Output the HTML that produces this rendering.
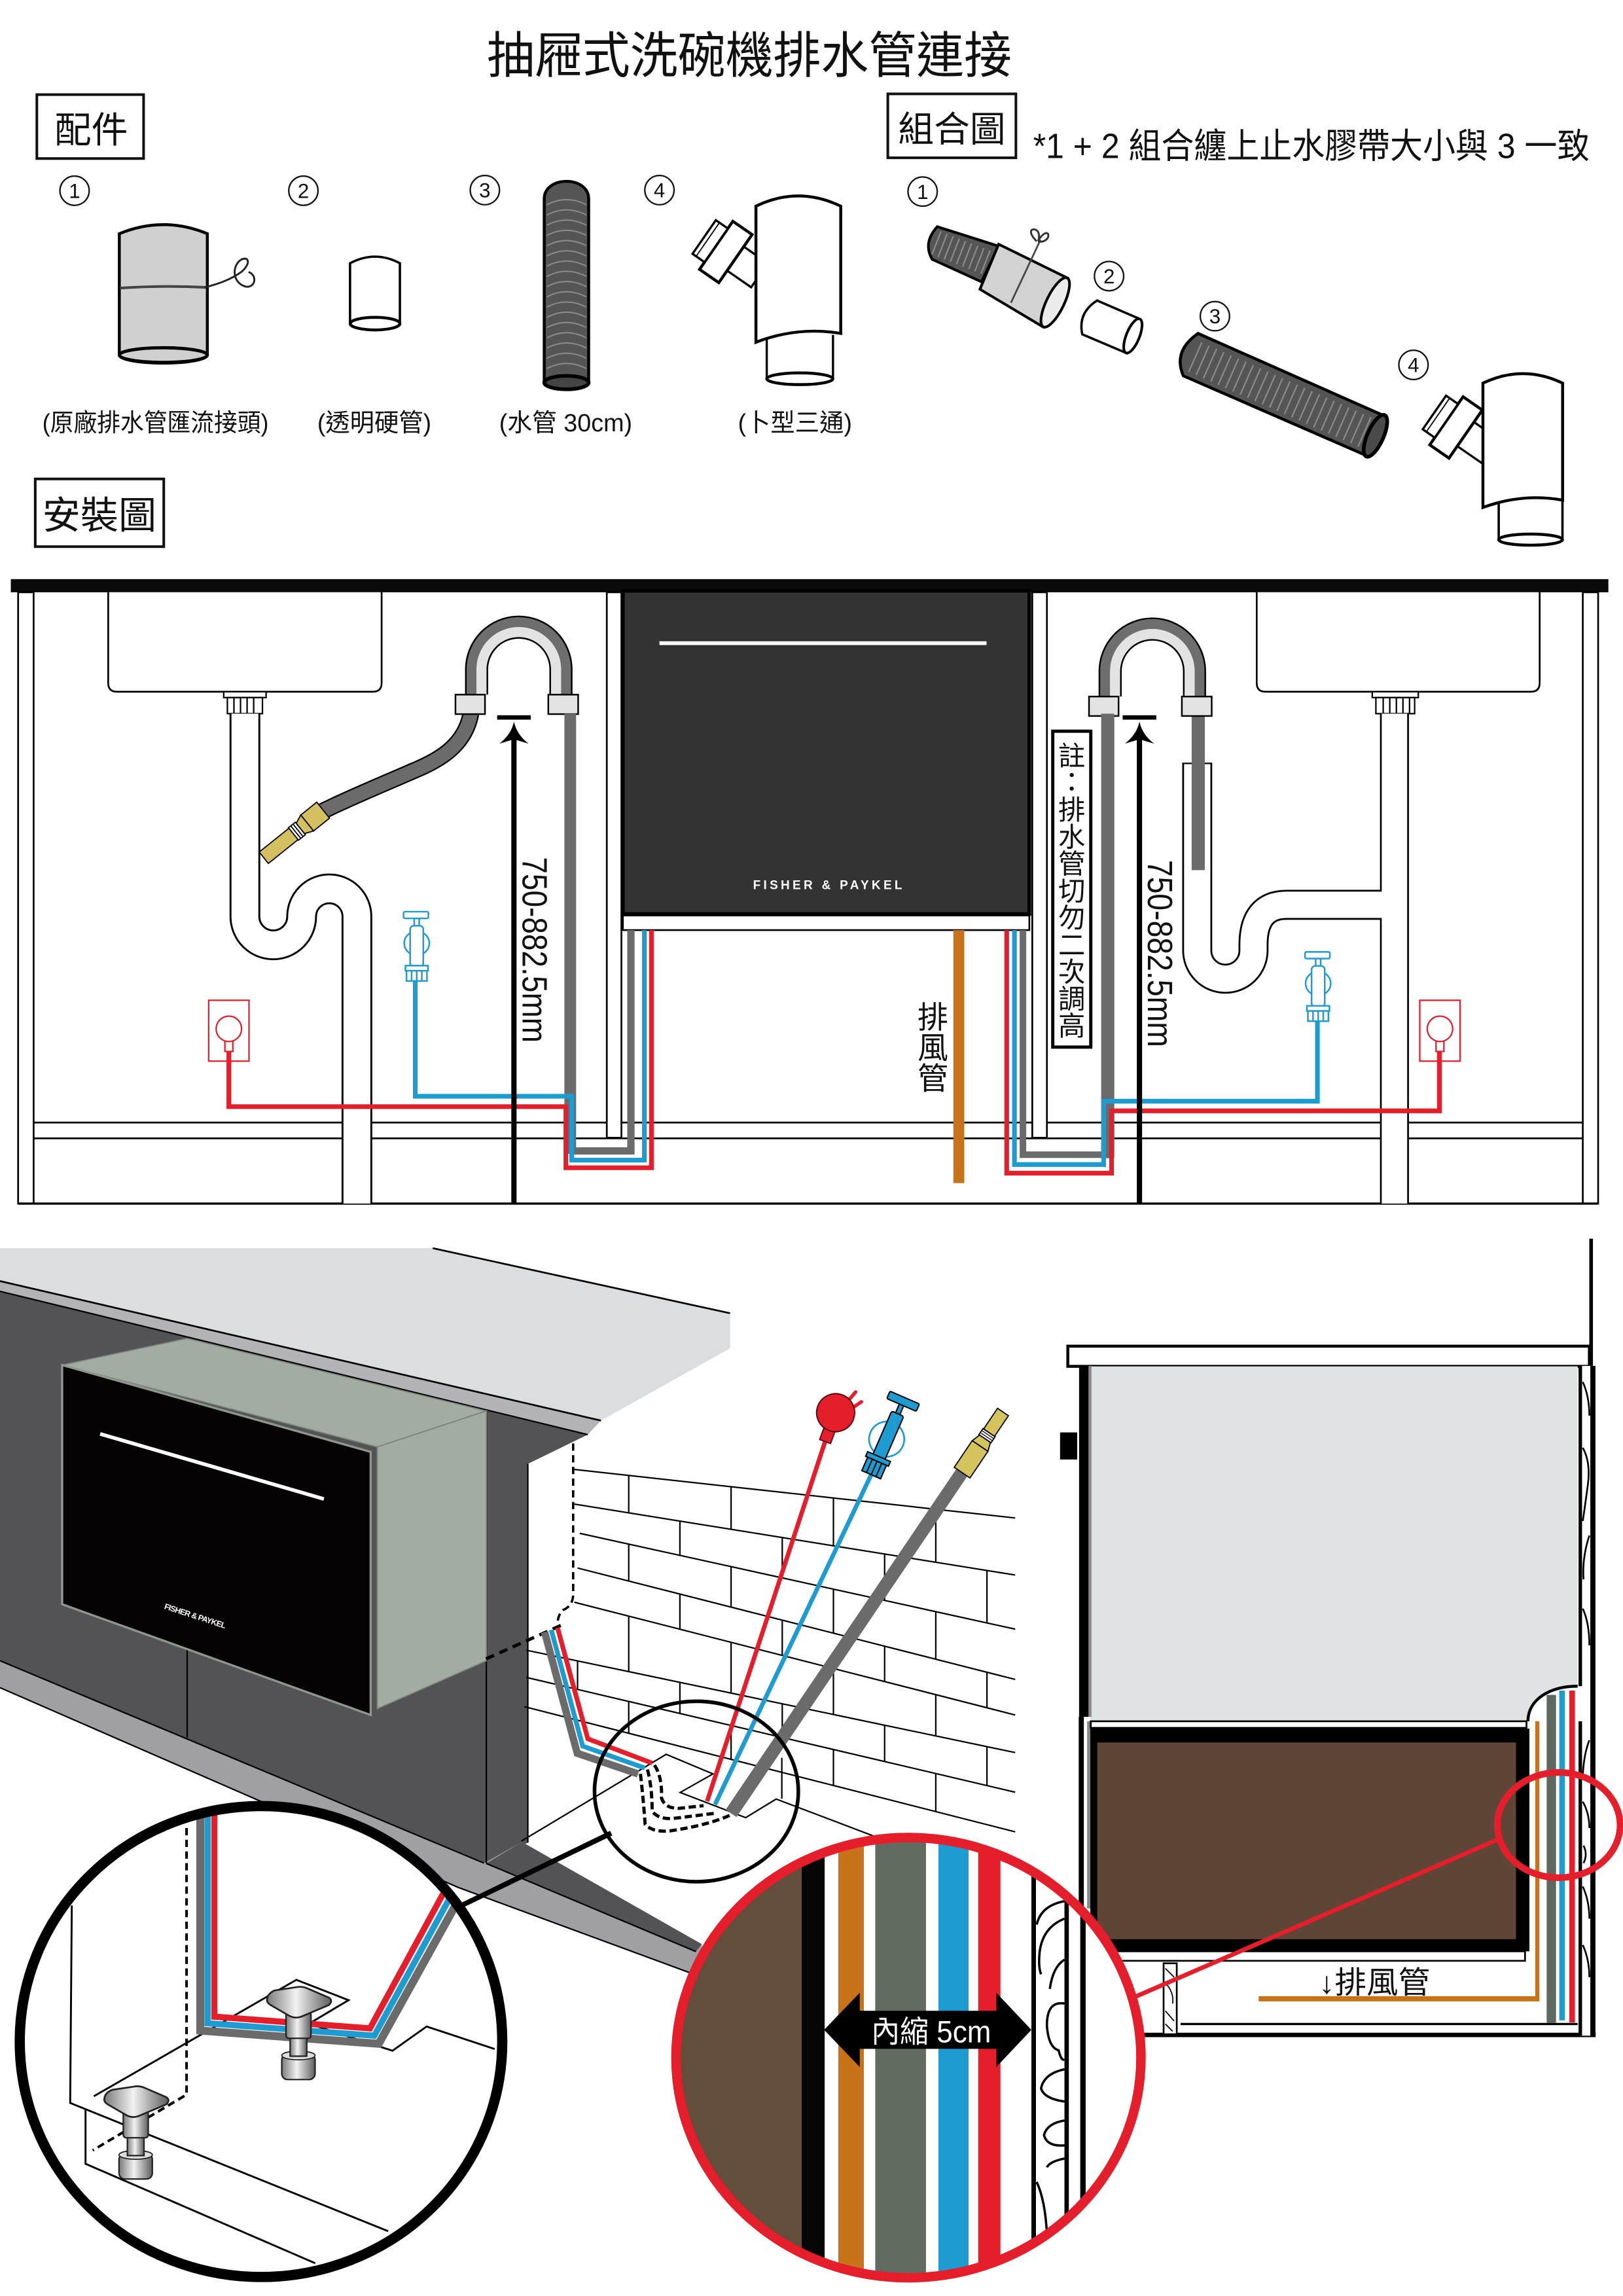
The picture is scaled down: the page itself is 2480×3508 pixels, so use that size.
<!DOCTYPE html>
<html lang="zh-Hant"><head><meta charset="utf-8"><title>抽屜式洗碗機排水管連接</title>
<style>
html,body{margin:0;padding:0;background:#fff;width:2480px;height:3508px;overflow:hidden}
svg{display:block}
text{font-family:"Liberation Sans","Noto Sans CJK TC",sans-serif;fill:#111}
</style></head><body>
<svg xmlns="http://www.w3.org/2000/svg" width="2480" height="3508" viewBox="0 0 1110 1570" preserveAspectRatio="none">
<defs>
 <linearGradient id="metal" x1="0" x2="1" y1="0" y2="0">
  <stop offset="0" stop-color="#7a7a7a"/><stop offset="0.45" stop-color="#f2f2f2"/><stop offset="1" stop-color="#5c5c5c"/>
 </linearGradient>
 <clipPath id="bigc"><ellipse cx="621.3" cy="1407" rx="159" ry="150.5"/></clipPath>
 <clipPath id="blkc"><ellipse cx="178.5" cy="1396" rx="162" ry="158"/></clipPath>
 <g id="faucet" fill="#fff" stroke="#1e9bd0" stroke-width="1.1">
  <rect x="276" y="623.4" width="17" height="4.6" rx="1"/>
  <rect x="283.3" y="628" width="3.4" height="5.5"/>
  <ellipse cx="285" cy="645" rx="8.6" ry="8.2"/>
  <rect x="280.5" y="633" width="9" height="28" rx="2.5"/>
  <rect x="277.3" y="660.3" width="15.4" height="3.5"/>
  <rect x="278" y="663.8" width="14" height="7"/>
  <path d="M281.5,663.8V670.8M285,663.8V670.8M288.5,663.8V670.8" fill="none"/>
 </g>
 <g id="outlet" fill="none" stroke="#e41e2b" stroke-width="1">
  <rect x="142.7" y="684" width="27.6" height="41.6"/>
  <circle cx="156.5" cy="703.5" r="8.7"/>
  <path d="M153.8,711.5 V719 H159.2 V711.5"/>
 </g>
 <g id="uhook">
  <path d="M-32.6,17.3 V0 A32.6,32.6 0 0 1 32.6,0 V17.3" fill="none" stroke="#6e6e6e" stroke-width="7.4"/>
  <path d="M-25.2,17.3 V0 A25.2,25.2 0 0 1 25.2,0 V17.3" fill="none" stroke="#e3e3e3" stroke-width="7.4"/>
  <path d="M-36.2,17.3 V0 A36.2,36.2 0 0 1 36.2,0 V17.3" fill="none" stroke="#000" stroke-width="1.1"/>
  <path d="M-21.5,17.3 V0 A21.5,21.5 0 0 1 21.5,0 V17.3" fill="none" stroke="#000" stroke-width="1.1"/>
  <rect x="-43.3" y="17.3" width="20.2" height="13.3" fill="#e3e3e3" stroke="#000" stroke-width="1.1"/>
  <rect x="20.2" y="17.3" width="20.4" height="13.3" fill="#e3e3e3" stroke="#000" stroke-width="1.1"/>
 </g>
 <g id="arrow">
  <rect x="-11.5" y="-4.4" width="23" height="3" fill="#000"/>
  <path d="M0,0 Q-2,9 -10,15 L0,12 L10,15 Q2,9 0,0Z" fill="#000"/>
  <rect x="-1.8" y="10" width="3.6" height="320" fill="#000"/>
 </g>
 <g id="branch">
  <rect x="6" y="-10" width="22" height="20" fill="#fff" stroke="#000" stroke-width="1.5"/>
  <rect x="-8" y="-20" width="16" height="40" fill="#fff" stroke="#000" stroke-width="2"/>
  <rect x="-18" y="-14" width="10" height="28" fill="#fff" stroke="#000" stroke-width="1.5"/>
  <line x1="-15" y1="-14" x2="-15" y2="14" stroke="#000" stroke-width="0.8"/>
 </g>
 <g id="foot">
  <rect x="192.7" y="1404.6" width="22.8" height="17.4" rx="4" fill="url(#metal)" stroke="#222" stroke-width="1"/>
  <ellipse cx="204.1" cy="1405.5" rx="11.4" ry="3" fill="#ddd" stroke="#222" stroke-width="0.8"/>
  <rect x="198.4" y="1393" width="11.4" height="13" fill="url(#metal)" stroke="#222" stroke-width="1"/>
  <rect x="195.6" y="1375.8" width="17.1" height="18" rx="2" fill="url(#metal)" stroke="#222" stroke-width="1"/>
  <path d="M182.7,1367 Q183,1363 188,1361 L203,1358.8 Q207,1358 211,1360 L225,1366 Q228,1368 225,1371 L206,1379 Q202,1380.5 198,1378.5 L185,1371 Q182,1369 182.7,1367Z" fill="url(#metal)" stroke="#222" stroke-width="1.2"/>
 </g>
</defs>
<rect width="1110" height="1570" fill="#fff"/>

<!-- ===== TITLE & HEADINGS ===== -->
<text x="512.5" y="50" font-size="34" text-anchor="middle" textLength="359" lengthAdjust="spacingAndGlyphs">抽屜式洗碗機排水管連接</text>
<rect x="25.2" y="64.7" width="73" height="43.7" fill="none" stroke="#111" stroke-width="1.8"/>
<text x="62.5" y="97.5" font-size="25" text-anchor="middle">配件</text>
<rect x="607.2" y="64.2" width="87.6" height="43.7" fill="none" stroke="#111" stroke-width="1.8"/>
<text x="651" y="97" font-size="24.5" text-anchor="middle">組合圖</text>
<text x="706.6" y="108" font-size="24" textLength="380.7" lengthAdjust="spacingAndGlyphs">*1 + 2 組合纏上止水膠帶大小與 3 一致</text>
<rect x="24.1" y="327.5" width="87.9" height="46.3" fill="none" stroke="#111" stroke-width="1.8"/>
<text x="68" y="361.5" font-size="26" text-anchor="middle">安裝圖</text>

<!-- circled numbers -->
<g fill="none" stroke="#111" stroke-width="1">
 <circle cx="51" cy="130.4" r="10"/><circle cx="207.5" cy="130.4" r="10"/><circle cx="331.6" cy="130" r="10"/><circle cx="451" cy="130" r="10"/>
 <circle cx="631" cy="131" r="10"/><circle cx="758.5" cy="188.8" r="10"/><circle cx="830.9" cy="216.2" r="10"/><circle cx="966.7" cy="249.5" r="10"/>
</g>
<g font-size="14" text-anchor="middle">
 <text x="51" y="135.4">1</text><text x="207.5" y="135.4">2</text><text x="331.6" y="135">3</text><text x="451" y="135">4</text>
 <text x="631" y="136">1</text><text x="758.5" y="193.8">2</text><text x="830.9" y="221.2">3</text><text x="966.7" y="254.5">4</text>
</g>

<!-- part labels -->
<text x="29" y="295" font-size="17" textLength="154.7" lengthAdjust="spacingAndGlyphs">(原廠排水管匯流接頭)</text>
<text x="217" y="295" font-size="17" textLength="78" lengthAdjust="spacingAndGlyphs">(透明硬管)</text>
<text x="341.4" y="295" font-size="17" textLength="91" lengthAdjust="spacingAndGlyphs">(水管 30cm)</text>
<text x="504.7" y="295" font-size="17" textLength="78" lengthAdjust="spacingAndGlyphs">(卜型三通)</text>

<!-- Part 1 -->
<path d="M81.6,159.8 Q111.7,147.4 141.8,159.8 L141.8,242.8 A30.1,5.5 0 0 1 81.6,242.8 Z" fill="#d0d0d0" stroke="#000" stroke-width="2"/>
<ellipse cx="111.7" cy="242.8" rx="30.1" ry="5" fill="none" stroke="#000" stroke-width="2.2"/>
<path d="M82,197 Q111,195 141,196.5" fill="none" stroke="#444" stroke-width="1.8"/>
<path d="M140,196.5 C150,194 158,191 165,186 C172,180 170,175 165,177.5 C159,181 158,193 168,196 C175,197 176,188 170,186" fill="none" stroke="#222" stroke-width="1.3"/>
<!-- Part 2 -->
<path d="M239.4,180 Q256.5,171 273.5,180 L273.5,221.3 A17,4.3 0 0 1 239.4,221.3 Z" fill="#fff" stroke="#000" stroke-width="1.6"/>
<ellipse cx="256.5" cy="221.3" rx="17" ry="4.3" fill="none" stroke="#000" stroke-width="2"/>
<!-- Part 3 -->
<path d="M372.2,136 C372.2,120 402.6,120 402.6,136 L402.6,261.6 A15.2,4.6 0 0 1 372.2,261.6 Z" fill="#555" stroke="#000" stroke-width="2"/>
<path d="M374,140 Q387.4,133 401,140 M374,147 Q387.4,140 401,147 M374,154 Q387.4,147 401,154 M374,161 Q387.4,154 401,161 M374,168 Q387.4,161 401,168 M374,175 Q387.4,168 401,175 M374,182 Q387.4,175 401,182 M374,189 Q387.4,182 401,189 M374,196 Q387.4,189 401,196 M374,203 Q387.4,196 401,203 M374,210 Q387.4,203 401,210 M374,217 Q387.4,210 401,217 M374,224 Q387.4,217 401,224 M374,231 Q387.4,224 401,231 M374,238 Q387.4,231 401,238 M374,245 Q387.4,238 401,245 M374,252 Q387.4,245 401,252" fill="none" stroke="#8a8a8a" stroke-width="0.9"/>
<ellipse cx="387.4" cy="261.6" rx="15.2" ry="4.6" fill="#444" stroke="#000" stroke-width="2.5"/>
<!-- Part 4 -->
<use href="#branch" transform="translate(496.4,172.3) rotate(34.7)"/>
<path d="M524.4,231 L524.4,259 A22.6,4 0 0 0 569.7,259 L569.7,229" fill="#fff" stroke="#000" stroke-width="1.5"/>
<ellipse cx="547" cy="259" rx="22.6" ry="4" fill="#fff" stroke="#000" stroke-width="2"/>
<path d="M517,141 Q546,127 575,141 L575,228 Q546,223 517,234 Z" fill="#fff" stroke="#000" stroke-width="2"/>

<!-- Assembly (right) -->
<path d="M641,155 L683,168.3 L671.2,192.7 L637.5,177.3 Q631,166 641,155 Z" fill="#555" stroke="#000" stroke-width="1.8"/>
<line x1="640" y1="166" x2="676" y2="180" stroke="#8a8a8a" stroke-width="17" stroke-dasharray="1 3.5"/>
<polygon points="683,167 730.1,190.1 713.3,223.5 670.2,197.8" fill="#d2d2d2" stroke="#000" stroke-width="1.8"/>
<ellipse cx="721.7" cy="206.8" rx="6" ry="18.6" transform="rotate(26 721.7 206.8)" fill="#ececec" stroke="#000" stroke-width="1.8"/>
<path d="M711.6,164 L691.4,207" stroke="#444" stroke-width="1.2"/>
<path d="M709,165 C704,160 704,156 708,157 C711,158 711,162 710,165 C713,159 717,158 717,161 C717,164 713,166 710,165" fill="none" stroke="#333" stroke-width="1.3"/>
<path d="M750.3,205.5 L779,217.9 L770.6,241.5 L740.2,228.6 Q737,214 750.3,205.5Z" fill="#fff" stroke="#000" stroke-width="1.6"/>
<ellipse cx="774.8" cy="229.7" rx="4.5" ry="12.5" transform="rotate(22 774.8 229.7)" fill="#fff" stroke="#000" stroke-width="1.8"/>
<path d="M819.4,228 L945.7,283.9 L935.6,312 L809.3,257 Q802,240 819.4,228Z" fill="#555" stroke="#000" stroke-width="2"/>
<line x1="817" y1="244" x2="937" y2="297" stroke="#8a8a8a" stroke-width="22" stroke-dasharray="1 4.5"/>
<ellipse cx="940.7" cy="298" rx="5.5" ry="15.5" transform="rotate(24 940.7 298)" fill="#4a4a4a" stroke="#000" stroke-width="2.5"/>
<use href="#branch" transform="translate(995.8,292.3) rotate(34.7)"/>
<path d="M1025,343 V369 A21.8,3.8 0 0 0 1068.6,369 V341" fill="#fff" stroke="#000" stroke-width="1.6"/>
<ellipse cx="1046.8" cy="369" rx="21.8" ry="3.8" fill="#fff" stroke="#000" stroke-width="2"/>
<path d="M1014.2,262 Q1041.5,249 1068.7,262 L1068.7,342 Q1041.5,337 1014.2,347 Z" fill="#fff" stroke="#000" stroke-width="2"/>

<!-- ===== INSTALL DIAGRAM ===== -->
<rect x="7.4" y="396" width="1092.6" height="9" fill="#0a0a0a"/>
<rect x="12.4" y="405" width="10.6" height="418" fill="#fff" stroke="#000" stroke-width="1.2"/>
<rect x="1082.5" y="405" width="10.5" height="418" fill="#fff" stroke="#000" stroke-width="1.2"/>
<g stroke="#000" stroke-width="1.2">
 <line x1="23" y1="767.6" x2="1082.5" y2="767.6"/>
 <line x1="23" y1="778.4" x2="1082.5" y2="778.4"/>
 <line x1="12.4" y1="823" x2="1093" y2="823" stroke-width="1.5"/>
</g>
<rect x="415" y="405" width="10" height="373" fill="#fff" stroke="#000" stroke-width="1.2"/>
<rect x="706" y="405" width="10" height="373" fill="#fff" stroke="#000" stroke-width="1.2"/>
<!-- sinks -->
<path d="M74,405 V467 Q74,473 80,473 H255 Q261,473 261,467 V405" fill="#fff" stroke="#000" stroke-width="1.2"/>
<path d="M859.5,405 V467 Q859.5,473 865.5,473 H1047 Q1053,473 1053,467 V405" fill="#fff" stroke="#000" stroke-width="1.2"/>
<g fill="#fff" stroke="#000" stroke-width="1">
 <rect x="153" y="473" width="29" height="4"/><rect x="155.5" y="477" width="24" height="11"/>
 <path d="M160,477V488M164.5,477V488M169,477V488M173.5,477V488" fill="none"/>
 <rect x="938.5" y="473" width="31.5" height="4"/><rect x="941" y="477" width="26.5" height="11"/>
 <path d="M946,477V488M950.5,477V488M955,477V488M959.5,477V488M964,477V488" fill="none"/>
</g>
<!-- left trap -->
<path d="M167.5,488 V626.7 A19.4,19.4 0 0 0 206.3,626.7 A18.9,18.9 0 0 1 244.1,626.7 V823" fill="none" stroke="#000" stroke-width="21"/>
<path d="M167.5,488 V626.7 A19.4,19.4 0 0 0 206.3,626.7 A18.9,18.9 0 0 1 244.1,626.7 V823" fill="none" stroke="#fff" stroke-width="18.4"/>
<!-- left gray hose -->
<path d="M322,488 C318,510 300,520 283,527 C265,535 240,545 218,556" fill="none" stroke="#000" stroke-width="11.5"/>
<path d="M322,488 C318,510 300,520 283,527 C265,535 240,545 218,556" fill="none" stroke="#6b6b6b" stroke-width="9.5"/>
<g transform="translate(221,554) rotate(141.3)" stroke="#000" stroke-width="0.8">
 <rect x="0" y="-7" width="14" height="14" fill="#d4c060"/>
 <polygon points="14,-7 20,-4.5 20,4.5 14,7" fill="#d4c060"/>
 <rect x="20" y="-5.5" width="6" height="11" fill="#fff"/>
 <path d="M22,-5.5V5.5M24,-5.5V5.5" fill="none"/>
 <rect x="26" y="-5" width="26" height="10" fill="#d4c060"/>
</g>
<!-- right trap -->
<path d="M818.8,522 V650 A19.25,19.25 0 0 0 857.3,650 V646 Q857.3,618.7 880,618.7 H954" fill="none" stroke="#000" stroke-width="20.5"/>
<path d="M818.8,522 V650 A19.25,19.25 0 0 0 857.3,650 V646 Q857.3,618.7 880,618.7 H954" fill="none" stroke="#fff" stroke-width="18"/>
<line x1="808.5" y1="522" x2="829" y2="522" stroke="#000" stroke-width="1"/>
<rect x="944.4" y="488" width="18.6" height="335" fill="#fff"/>
<g stroke="#000" stroke-width="1.2">
 <line x1="944.4" y1="488" x2="944.4" y2="609.7"/><line x1="944.4" y1="627.7" x2="944.4" y2="823"/>
 <line x1="963" y1="488" x2="963" y2="823"/>
</g>
<rect x="815" y="488" width="9" height="107" fill="#6b6b6b"/>
<!-- U hooks -->
<use href="#uhook" transform="translate(354.8,457.7)"/>
<use href="#uhook" transform="translate(788.1,459)"/>
<!-- dishwasher -->
<rect x="426" y="404" width="278" height="221" fill="#333" stroke="#000" stroke-width="2.5"/>
<rect x="451" y="438.5" width="223.7" height="2.6" fill="#fff"/>
<text x="566" y="608" font-size="8.5" font-weight="bold" text-anchor="middle" textLength="102" lengthAdjust="spacing" style="fill:#fff">FISHER &amp; PAYKEL</text>
<rect x="426" y="626" width="278" height="10" fill="#fff" stroke="#000" stroke-width="1.2"/>
<rect x="652" y="636" width="7.5" height="173" fill="#c8731a"/>
<!-- colored lines -->
<g fill="none" stroke-linejoin="miter">
 <line x1="390" y1="488" x2="390" y2="789" stroke="#6b6b6b" stroke-width="8"/>
 <polyline points="390,787 431.5,787 431.5,636" stroke="#6b6b6b" stroke-width="5"/>
 <polyline points="284,670 284,749.6 391,749.6 391,793.3 440.7,793.3 440.7,636" stroke="#1e9bd0" stroke-width="3.2"/>
 <polyline points="156.5,719 156.5,756.7 387,756.7 387,798.5 445.5,798.5 445.5,636" stroke="#e41e2b" stroke-width="3.2"/>
 <line x1="757.6" y1="488" x2="757.6" y2="792" stroke="#6b6b6b" stroke-width="9"/>
 <polyline points="757,789.6 699.6,789.6 699.6,636" stroke="#6b6b6b" stroke-width="4.5"/>
 <polyline points="901,697.6 901,753 754.8,753 754.8,796.3 693.8,796.3 693.8,636" stroke="#1e9bd0" stroke-width="3.2"/>
 <polyline points="984.4,719 984.4,759.6 760.2,759.6 760.2,802.2 688.5,802.2 688.5,636" stroke="#e41e2b" stroke-width="3.2"/>
</g>
<use href="#faucet"/>
<use href="#faucet" transform="translate(616.5,27.5)"/>
<use href="#outlet"/>
<use href="#outlet" transform="translate(828.3,0)"/>
<use href="#arrow" transform="translate(351.5,493.5)"/>
<use href="#arrow" transform="translate(779.3,493.5)"/>
<text transform="translate(357.5,586) rotate(90)" font-size="24" textLength="127" lengthAdjust="spacingAndGlyphs">750-882.5mm</text>
<text transform="translate(785,588) rotate(90)" font-size="24" textLength="128" lengthAdjust="spacingAndGlyphs">750-882.5mm</text>
<!-- note box -->
<rect x="720" y="500" width="26" height="216" fill="#fff" stroke="#000" stroke-width="2.2"/>
<g font-size="18.5" text-anchor="middle">
 <text x="733" y="523.5">註</text><text x="733" y="541.5">：</text><text x="733" y="560.4">排</text>
 <text x="733" y="578.9">水</text><text x="733" y="597.3">管</text><text x="733" y="615.8">切</text>
 <text x="733" y="634.2">勿</text><text x="733" y="652.7">二</text><text x="733" y="671.1">次</text>
 <text x="733" y="689.6">調</text><text x="733" y="708">高</text>
</g>
<g font-size="21" text-anchor="middle">
 <text x="638" y="703">排</text><text x="638" y="724">風</text><text x="638" y="745">管</text>
</g>

<!-- ===== BOTTOM LEFT ISO SCENE ===== -->
<polygon points="0,853.5 296,853.5 499.3,898 499.3,922 411,971.4 0,876" fill="#dcdddf"/>
<line x1="296" y1="853.5" x2="499.3" y2="898" stroke="#000" stroke-width="1.2"/>
<polygon points="0,876 411,971.4 402,981 0,883" fill="#b3b3b7"/>
<line x1="0" y1="876" x2="411" y2="971.4" stroke="#000" stroke-width="1.2"/>
<polygon points="0,883 402,981 361,1001 361,1260 331,1274 0,1135.6" fill="#535356"/>
<polygon points="0,1135.6 331,1274 357,1259.5 480,1330 480,1352 313.3,1290.6 0,1154" fill="#a0a0a4"/>
<polygon points="357,1259.5 480,1329.4 476,1334.5 332.5,1274.2" fill="#535356"/>
<g stroke="#000" stroke-width="1" fill="none">
 <line x1="0" y1="883" x2="402" y2="981"/>
 <line x1="0" y1="1135.6" x2="331" y2="1274"/>
 <line x1="332.5" y1="1274.2" x2="476" y2="1334.5"/>
 <polyline points="0,1154 313.3,1290.6 480,1352"/>
 <line x1="332.6" y1="965" x2="332.6" y2="1274"/>
 <line x1="361" y1="1001" x2="361" y2="1260"/>
 <line x1="128" y1="1128" x2="128" y2="1188"/>
</g>
<!-- dishwasher iso -->
<polygon points="42.5,933.4 128,915.2 332.6,964.8 258,989.4" fill="#a3aca3" stroke="#7b857b" stroke-width="0.8"/>
<polygon points="258,989.4 332.6,964.8 332.6,1135.6 258,1168.4" fill="#a3aca3" stroke="#7b857b" stroke-width="0.8"/>
<polygon points="42.5,933.4 253.5,992.8 253.5,1172.7 42.5,1097" fill="#050304" stroke="#8e968e" stroke-width="1.5"/>
<line x1="68.5" y1="980.5" x2="221.5" y2="1025" stroke="#fff" stroke-width="2.5"/>
<text transform="translate(112,1100) rotate(18)" font-size="5.5" font-weight="bold" style="fill:#fff" textLength="44" lengthAdjust="spacing">FISHER &amp; PAYKEL</text>

<!-- brick wall -->
<g stroke="#000" stroke-width="1" fill="none">
 <line x1="392.8" y1="1004.8" x2="694.3" y2="1038"/>
 <line x1="392.8" y1="1028.5" x2="694.3" y2="1077"/>
 <line x1="396.5" y1="1048.5" x2="694.3" y2="1114"/>
 <line x1="395" y1="1072.2" x2="694.3" y2="1148.4"/>
 <line x1="392.8" y1="1095.6" x2="694.3" y2="1172.7"/>
 <line x1="360" y1="1128.4" x2="694.3" y2="1198.4"/>
 <line x1="360" y1="1147" x2="694.3" y2="1225.5"/>
 <line x1="358.6" y1="1167" x2="694.3" y2="1252.6"/>
 <path d="M430,1008.9V1034.5M500,1016.6V1045.8M570,1024.3V1057M640,1032V1068.3
 M465,1040.1V1063.6M535,1051.4V1079M605,1062.7V1094.4M675,1073.9V1109.8
 M430,1056.1V1081.1M500,1071.5V1099M570,1086.7V1116.8M640,1102.1V1134.6
 M465,1090V1114.1M535,1107.9V1132M605,1125.7V1149.9M675,1143.6V1167.8
 M430,1105.1V1143M500,1123V1157.6M570,1140.9V1172.2M640,1158.8V1186.9
 M395,1135.7V1155.2M465,1150.3V1171.7M535,1165V1188.1M605,1179.6V1204.6M675,1194.2V1221
 M430,1163.5V1185.2M500,1179.9V1203.1M570,1196.4V1220.9M640,1212.9V1238.8
 M534.7,1202V1230"/>
 <polyline points="356.5,1259 455.6,1199.6 487.6,1213 465.2,1225.7 510,1242.9 530.8,1230.2 620,1264"/>
</g>
<!-- dashed hidden pipe -->
<path d="M392,987 V1090 Q392,1098 385,1101 Q381,1105 381.5,1111" fill="none" stroke="#000" stroke-width="1.6" stroke-dasharray="5 3"/>
<line x1="383.5" y1="1111.5" x2="331" y2="1135" stroke="#000" stroke-width="2.2" stroke-dasharray="6 4"/>
<!-- colored L at wall -->
<g fill="none" stroke-linejoin="miter">
 <polyline points="372.5,1116 394.8,1198.9 436.4,1213" stroke="#6b6b6b" stroke-width="5"/>
 <polyline points="377,1114.5 398.5,1194 441,1209" stroke="#1e9bd0" stroke-width="3.2"/>
 <polyline points="381.3,1113.1 402,1189 446,1205.6" stroke="#e41e2b" stroke-width="3.2"/>
</g>
<!-- diagonal supply lines -->
<line x1="483.6" y1="1231.7" x2="564.3" y2="985.7" stroke="#e41e2b" stroke-width="3"/>
<line x1="489" y1="1234" x2="596" y2="1008" stroke="#1e9bd0" stroke-width="3"/>
<line x1="500" y1="1240" x2="657.8" y2="1007" stroke="#6b6b6b" stroke-width="9"/>
<!-- plug -->
<g transform="translate(571.5,966) rotate(20)">
 <path d="M5,-10 L8,-18 M9,-6 L14,-13" stroke="#e41e2b" stroke-width="2.4" stroke-linecap="round"/>
 <rect x="-4" y="10" width="8" height="11" fill="#e41e2b" stroke="#5a0a0e" stroke-width="0.8"/>
 <circle cx="0" cy="0" r="13" fill="#e41e2b" stroke="#5a0a0e" stroke-width="0.9"/>
</g>
<!-- faucet iso -->
<g transform="translate(606,985) rotate(23.5)" stroke="#000" stroke-width="0.9">
 <circle cx="0" cy="-1" r="12" fill="#fff" stroke="#1e9bd0" stroke-width="1.2"/>
 <rect x="-1.6" y="-27" width="3.2" height="8" fill="#1e9bd0"/>
 <rect x="-11" y="-32" width="22" height="5.5" rx="1" fill="#1e9bd0"/>
 <rect x="-4.5" y="-20" width="9" height="33" rx="1.5" fill="#1e9bd0"/>
 <rect x="-8.5" y="12" width="17" height="3.5" fill="#1e9bd0"/>
 <rect x="-7" y="15.5" width="14" height="10" fill="#1e9bd0"/>
 <path d="M-3.5,15.5V25.5M0,15.5V25.5M3.5,15.5V25.5" fill="none"/>
</g>
<!-- brass iso -->
<g transform="translate(658,1007) rotate(-56)" stroke="#000" stroke-width="0.8">
 <rect x="0" y="-6.5" width="22" height="13" fill="#d5c35e"/>
 <polygon points="22,-6.5 28,-4.5 28,4.5 22,6.5" fill="#d5c35e"/>
 <rect x="28" y="-5" width="5" height="10" fill="#eee"/>
 <path d="M29.7,-5V5M31.4,-5V5" fill="none" stroke-width="0.5"/>
 <rect x="33" y="-4.5" width="17" height="9" fill="#d5c35e"/>
</g>
<!-- small circle -->
<ellipse cx="476.3" cy="1225" rx="69.7" ry="61.7" fill="none" stroke="#000" stroke-width="2.5"/>
<g fill="none" stroke="#000" stroke-width="2.2" stroke-dasharray="5 2.5">
 <path d="M447.6,1207 Q453,1215 452.4,1229.5 Q455,1237 465,1236.5 L481.2,1234.7"/>
 <path d="M442.8,1210 Q446,1222 446,1238.4 Q450,1244 460,1243.5 L489.2,1239.9"/>
 <path d="M438,1213 Q440,1230 441.2,1247.4 Q446,1253 458,1252 Q485,1248 500.4,1240.7"/>
</g>
<line x1="313.5" y1="1304" x2="418" y2="1253.5" stroke="#000" stroke-width="3.5"/>

<!-- black magnifier circle -->
<ellipse cx="178.5" cy="1396" rx="165" ry="161" fill="#fff"/>
<g clip-path="url(#blkc)">
 <g stroke="#000" stroke-width="1.3" fill="none">
  <polyline points="49.1,1303 48,1438 265.5,1525.7"/>
  <polyline points="58.5,1442.7 58.5,1479.6 215.6,1547.6"/>
  <polyline points="64.2,1433.4 202.7,1353.8 238.4,1367.7 211.3,1383.8 268.4,1402.3 291.8,1385.7 338.3,1401.1"/>
 </g>
 <g fill="none" stroke-linejoin="miter">
  <polyline points="137,1228 137,1388.5 259,1397.5 312,1302" stroke="#6b6b6b" stroke-width="5.5"/>
  <polyline points="142,1228 142,1383.5 256,1392 307.5,1298" stroke="#1e9bd0" stroke-width="4.2"/>
  <polyline points="146.6,1228 146.6,1379 253,1387 303,1295" stroke="#e41e2b" stroke-width="4.2"/>
 </g>
 <path d="M127.6,1250 V1432.3 L63.4,1470.4" fill="none" stroke="#000" stroke-width="1.8" stroke-dasharray="5 3"/>
 <use href="#foot"/>
 <use href="#foot" transform="translate(-111.3,68)"/>
</g>
<ellipse cx="178.5" cy="1396" rx="165" ry="161" fill="none" stroke="#000" stroke-width="7"/>

<!-- ===== RIGHT DRAWER SECTION ===== -->
<line x1="1088.2" y1="847" x2="1088.2" y2="934" stroke="#000" stroke-width="2.5"/>
<rect x="730.3" y="920.5" width="356.7" height="13.8" fill="#fff" stroke="#000" stroke-width="2"/>
<path d="M745.7,934.3 H1079 V1153 C1060,1153 1045,1162 1045,1177 H745.7 Z" fill="#e0e3e3"/>
<path d="M1079,1153 C1060,1153 1045,1162 1045,1177" fill="none" stroke="#000" stroke-width="2"/>
<rect x="738" y="934" width="6.5" height="240" fill="#000"/>
<rect x="744.5" y="934" width="2" height="240" fill="#888"/>
<rect x="725" y="979.5" width="11.7" height="18.5" fill="#000"/>
<line x1="739.5" y1="1174" x2="739.5" y2="1320" stroke="#000" stroke-width="3.5"/>
<rect x="743.5" y="1177" width="2.5" height="128" fill="#888"/>
<rect x="746" y="1177" width="298" height="4.5" fill="#fff" stroke="#000" stroke-width="1.2"/>
<rect x="745.7" y="1182" width="300.3" height="152.3" fill="#000"/>
<rect x="750.4" y="1191.5" width="286.4" height="134.5" fill="#5e4535"/>
<rect x="746" y="1334.3" width="297" height="6.5" fill="#fff" stroke="#000" stroke-width="1.2"/>
<line x1="807.4" y1="1384" x2="1079" y2="1384" stroke="#000" stroke-width="1.5"/>
<line x1="775" y1="1391.5" x2="1091.3" y2="1391.5" stroke="#000" stroke-width="3"/>
<rect x="795.8" y="1342.5" width="9" height="48.5" fill="#fff" stroke="#000" stroke-width="1.2"/>
<path d="M797,1346 L803,1352 M797,1356 Q803,1362 802,1370 M797,1375 L803,1382 M797,1384 L802,1389" fill="none" stroke="#000" stroke-width="0.8"/>
<!-- right wall -->
<rect x="1080.5" y="934" width="9.5" height="458" fill="#fff"/>
<line x1="1080.8" y1="934" x2="1080.8" y2="1153" stroke="#000" stroke-width="2.4"/>
<line x1="1080.8" y1="1177" x2="1080.8" y2="1392" stroke="#000" stroke-width="2.4"/>
<line x1="1089.4" y1="934" x2="1089.4" y2="1392.6" stroke="#000" stroke-width="3.5"/>
<path d="M1082.5,945 Q1087,955 1087,968 M1082.5,990 Q1088,1000 1086,1015 Q1084,1030 1082.5,1040 M1087,1050 Q1082,1065 1083,1080 M1082.5,1100 Q1087,1110 1087,1125 M1087,1190 Q1083,1200 1082.5,1215 M1082.5,1232 Q1087,1240 1087,1250 M1083,1262 Q1086,1268 1083,1274 M1082.5,1290 Q1087,1300 1087,1312 M1082.5,1330 Q1087,1340 1087,1352" fill="none" stroke="#000" stroke-width="1.2"/>
<!-- colored pipes -->
<line x1="1051.4" y1="1177" x2="1051.4" y2="1368.5" stroke="#c8731a" stroke-width="2.8"/>
<line x1="860.8" y1="1366.8" x2="1052.8" y2="1366.8" stroke="#c8731a" stroke-width="3.5"/>
<line x1="1061" y1="1159" x2="1061" y2="1383.3" stroke="#5d685e" stroke-width="6.4"/>
<line x1="1068.3" y1="1156" x2="1068.3" y2="1381.5" stroke="#1e9bd0" stroke-width="3.8"/>
<line x1="1075.2" y1="1156" x2="1075.2" y2="1383" stroke="#e41e2b" stroke-width="3.8"/>
<text x="902" y="1363" font-size="21" textLength="76" lengthAdjust="spacingAndGlyphs">↓排風管</text>
<ellipse cx="1066" cy="1248" rx="42" ry="36" fill="none" stroke="#e41e2b" stroke-width="4.5"/>
<line x1="1025.8" y1="1257.2" x2="775" y2="1366" stroke="#e41e2b" stroke-width="3"/>

<!-- ===== BIG RED CIRCLE ===== -->
<ellipse cx="621.3" cy="1407" rx="159" ry="150.5" fill="#fff"/>
<g clip-path="url(#bigc)">
 <rect x="440" y="1240" width="108.3" height="330" fill="#634e3c"/>
 <rect x="548.3" y="1240" width="15.7" height="330" fill="#050505"/>
 <rect x="573.3" y="1240" width="17.5" height="330" fill="#c8731a"/>
 <rect x="598.6" y="1240" width="34.7" height="330" fill="#616b60"/>
 <rect x="641.8" y="1240" width="20.6" height="330" fill="#1e9bd0"/>
 <rect x="669" y="1240" width="15.2" height="330" fill="#e41e2b"/>
 <rect x="705.4" y="1240" width="3.1" height="330" fill="#000"/>
 <rect x="728" y="1240" width="3" height="330" fill="#000"/>
 <rect x="738.8" y="1240" width="3.7" height="330" fill="#000"/>
 <path d="M728,1300 Q712,1303 709,1316 M728,1312 Q713,1318 711,1335 Q710,1345 712,1350 M728,1340 Q720,1345 718,1360 M728,1370 Q716,1368 716,1385 Q717,1400 724,1402 Q726,1410 728,1408 M728,1415 Q714,1418 712,1428 Q714,1435 728,1437 M728,1450 Q716,1452 714,1460 Q716,1468 728,1467 M728,1476 Q718,1478 716,1482 M709,1492 Q715,1505 716,1528" fill="none" stroke="#000" stroke-width="1.6"/>
</g>
<path d="M563.6,1388 L588,1362.6 L588,1375 L681.4,1375 L681.4,1362.6 L705.4,1388 L681.4,1413.4 L681.4,1401 L588,1401 L588,1413.4 Z" fill="#000"/>
<text x="636.8" y="1396.5" font-size="21" text-anchor="middle" textLength="82" lengthAdjust="spacingAndGlyphs" style="fill:#fff">內縮 5cm</text>
<ellipse cx="621.3" cy="1407" rx="159" ry="150.5" fill="none" stroke="#e41e2b" stroke-width="6.5"/>
</svg>
</body></html>
